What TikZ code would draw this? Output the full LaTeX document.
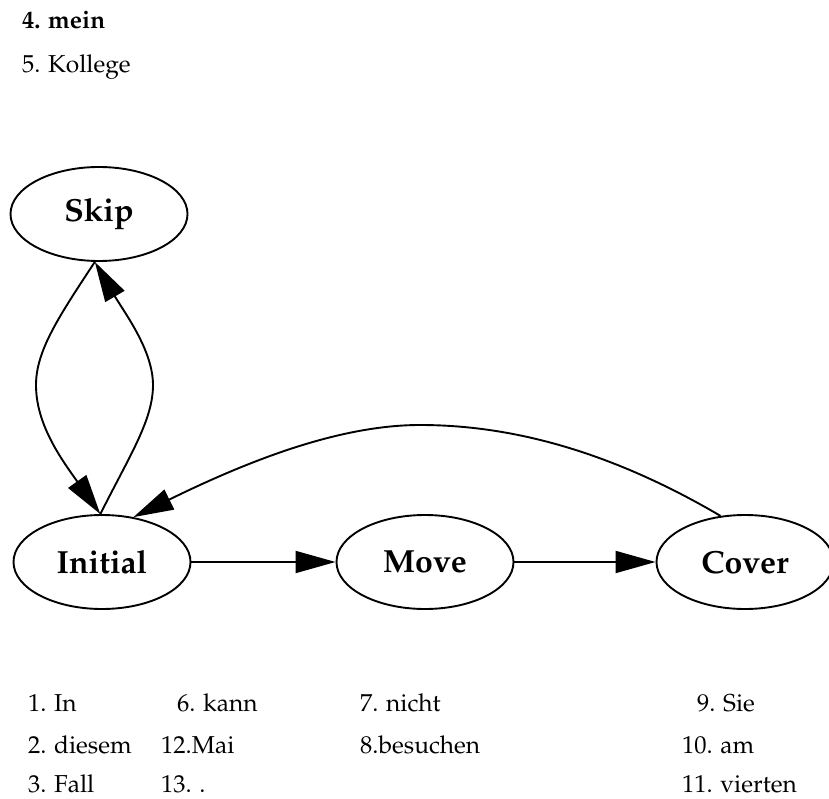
\documentclass[tikz,border=0pt]{standalone}
\usepackage[T1]{fontenc}
\usepackage{mathpazo}
\usetikzlibrary{arrows.meta,shapes.geometric}

\begin{document}
\begin{tikzpicture}[x=1pt,y=-1pt,
  state/.style={ellipse,draw,line width=1.9pt,minimum width=177pt,minimum height=94pt,
    inner sep=0pt,font=\fontsize{32}{38}\selectfont\bfseries},
  edge/.style={line width=1.9pt,-{Triangle[length=40pt,width=22pt]}},
  word/.style={anchor=base west,inner sep=0pt,font=\fontsize{24.5}{29}\selectfont}]
  % 画像の大きさ (px を pt として扱う)
  \useasboundingbox (0,0) rectangle (829,799);

  % 状態
  \node[state] (skip)    at (99,214)  {Skip};
  \node[state] (initial) at (102,562) {Initial};
  \node[state] (move)    at (425,562) {Move};
  \node[state] (cover)   at (745,562) {Cover};

  % 遷移
  \draw[edge] (initial) -- (move);
  \draw[edge] (move) -- (cover);
  \draw[edge] (skip.265) .. controls (60,315) and (36,350) .. (36,385)
    .. controls (36,425) and (62,460) .. (initial.92);
  \draw[edge] (initial.92) .. controls (130,455) and (153,420) .. (153,385)
    .. controls (153,350) and (124,312) .. (skip.265);
  \draw[edge] (cover.118) .. controls (600,445) and (500,425) .. (420,425)
    .. controls (340,425) and (250,460) .. (initial.55);

  % 単語リスト (x / ベースライン / 文字列)
  \foreach \x/\y/\t [count=\i] in {22/29/{\textbf{4. mein}}, 22/73/{5. Kollege},
      28/711/{1. In}, 28/753/{2. diesem}, 28/792/{3. Fall},
      177/711/{6. kann}, 161/753/{12.Mai}, 161/792/{13. .},
      360/711/{7. nicht}, 360/753/{8.besuchen},
      697/711/{9. Sie}, 682/753/{10. am}, 682/792/{11. vierten}} {
    \node[word] (w\i) at (\x,\y) {\t};
  }
\end{tikzpicture}
\end{document}
